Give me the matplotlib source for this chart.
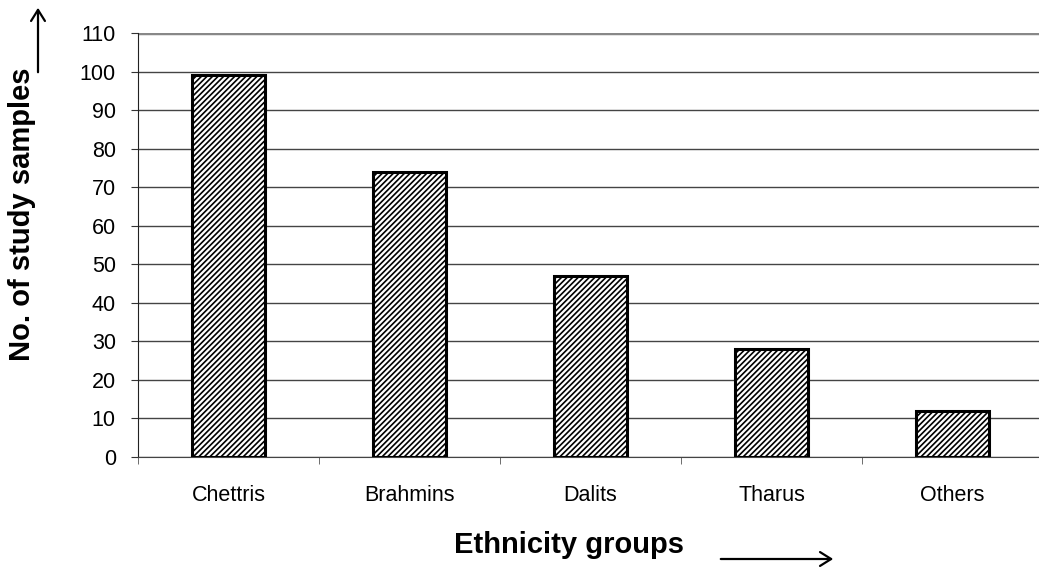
import matplotlib
matplotlib.use("Agg")
import matplotlib.pyplot as plt

plt.rcParams['font.family'] = ['Liberation Sans', 'DejaVu Sans']
plt.rcParams['hatch.color'] = '#7a7a7a'
plt.rcParams['hatch.linewidth'] = 1.2

categories = ["Chettris", "Brahmins", "Dalits", "Tharus", "Others"]
samples = [99, 74, 47, 28, 12]
y_ticks = list(range(0, 111, 10))

fig = plt.figure(figsize=(10.39, 5.74), dpi=100)
ax = fig.add_axes([138 / 1039, 1 - 457 / 574, (1043 - 138) / 1039, (457 - 33) / 574])

x = list(range(len(categories)))
ax.set_axisbelow(True)
ax.yaxis.grid(True, color='#444444', linewidth=1.0)
ax.bar(x, samples, width=0.40, facecolor='white', edgecolor='black',
       linewidth=2.2, hatch='//////', zorder=3)

ax.set_xlim(-0.5, len(categories) - 0.5)
ax.set_ylim(0, 110)
ax.set_yticks(y_ticks)
ax.set_xticks(x)
ax.set_xticklabels(categories)
ax.set_xticks([i + 0.5 for i in range(-1, len(categories))], minor=True)
ax.tick_params(axis='x', which='major', length=0, pad=20, labelsize=15.5)
ax.tick_params(axis='x', which='minor', length=5, color='#555555')
ax.tick_params(axis='y', length=5, pad=11, labelsize=15.5, color='#333333')

for side in ('top', 'right'):
    ax.spines[side].set_visible(False)
ax.spines['left'].set_color('#222222')
ax.spines['bottom'].set_color('#444444')
ax.axhline(110, color='#888888', linewidth=2.5, zorder=2)

fig.text(22 / 1039, 1 - 214 / 574, "No. of study samples", rotation=90,
         ha='center', va='center', fontsize=21, fontweight='bold')
fig.text(569 / 1039, 1 - 545 / 574, "Ethnicity groups",
         ha='center', va='center', fontsize=21, fontweight='bold')

fig.add_artist(matplotlib.patches.FancyArrowPatch(
    (38 / 1039, 1 - 75 / 574), (38 / 1039, 1 - 5 / 574),
    transform=fig.transFigure, arrowstyle='->,head_length=8,head_width=5',
    mutation_scale=1, color='black', linewidth=1.6))
fig.add_artist(matplotlib.patches.FancyArrowPatch(
    (718 / 1039, 1 - 559 / 574), (836 / 1039, 1 - 559 / 574),
    transform=fig.transFigure, arrowstyle='->,head_length=8,head_width=5',
    mutation_scale=1, color='black', linewidth=1.6))

fig.savefig("out.png", dpi=100)
